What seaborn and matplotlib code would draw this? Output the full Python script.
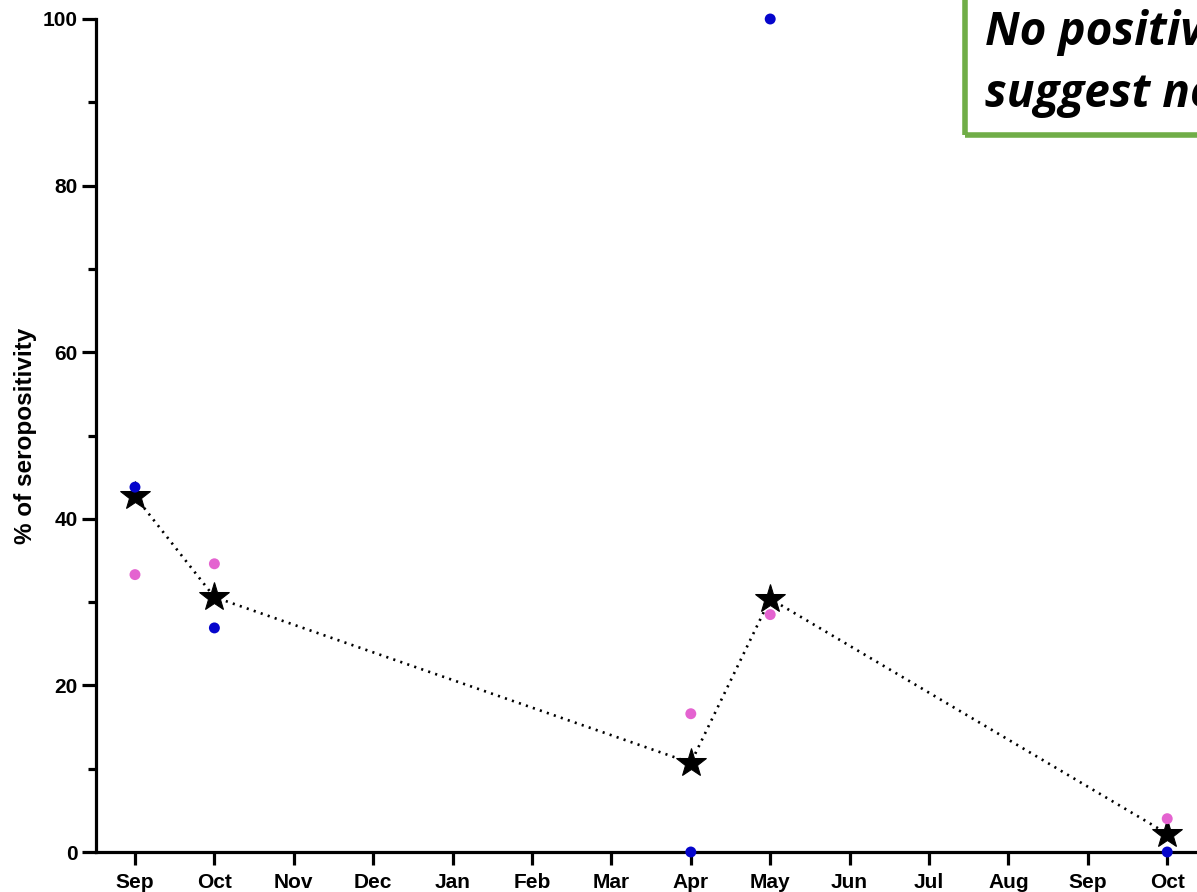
import matplotlib
matplotlib.use("Agg")
import matplotlib.pyplot as plt
import seaborn as sns
import pandas as pd
from matplotlib.patches import Rectangle
from matplotlib.ticker import MultipleLocator

# Sampling months (Sep through Oct of the following year)
months = ["Sep", "Oct", "Nov", "Dec", "Jan", "Feb", "Mar",
          "Apr", "May", "Jun", "Jul", "Aug", "Sep", "Oct"]
sample_idx = [0, 1, 7, 8, 13]

overall = [42.7, 30.6, 10.7, 30.4, 2.2]
group_blue = [43.8, 26.9, 0.0, 100.0, 0.0]
group_pink = [33.3, 34.6, 16.6, 28.5, 4.0]

df = pd.DataFrame({"month": sample_idx, "overall": overall,
                   "blue": group_blue, "pink": group_pink})

sns.set_theme(style="ticks")
plt.rcParams["font.family"] = ["Liberation Sans", "DejaVu Sans"]
plt.rcParams["text.color"] = "black"
plt.rcParams["axes.labelcolor"] = "black"
plt.rcParams["xtick.color"] = "black"
plt.rcParams["ytick.color"] = "black"

W, H = 1197, 892
fig = plt.figure(figsize=(W / 100, H / 100), dpi=100)
ax = fig.add_axes([96 / W, (H - 852) / H, (W - 96) / W, (852 - 19) / H])

sns.lineplot(data=df, x="month", y="overall", ax=ax, color="black",
             linestyle=(0, (0.8, 2.0)), linewidth=1.9, marker="*",
             markersize=22, markeredgecolor="black", clip_on=False, zorder=3)
sns.scatterplot(data=df, x="month", y="pink", ax=ax, color="#E463D0",
                s=62, edgecolor="none", clip_on=False, zorder=5)
sns.scatterplot(data=df, x="month", y="blue", ax=ax, color="#0505CC",
                s=62, edgecolor="none", clip_on=False, zorder=5)

ax.set_xlim(-0.491, 13.375)
ax.set_ylim(0, 100)
ax.set_xticks(range(len(months)))
ax.set_xticklabels(months)
ax.yaxis.set_major_locator(MultipleLocator(20))
ax.yaxis.set_minor_locator(MultipleLocator(10))
ax.set_xlabel("")
ax.set_ylabel("% of seropositivity", fontsize=17.5, fontweight="bold")
ax.yaxis.set_label_coords(-0.054, 0.5)

for s in ["top", "right"]:
    ax.spines[s].set_visible(False)
for s in ["left", "bottom"]:
    ax.spines[s].set_linewidth(2.3)
    ax.spines[s].set_color("black")

ax.tick_params(axis="x", which="major", length=9, width=2.3, labelsize=15, pad=6)
ax.tick_params(axis="y", which="major", length=10, width=2.3, labelsize=15, pad=3)
ax.tick_params(axis="y", which="minor", length=6, width=2.3)
for lab in ax.get_xticklabels() + ax.get_yticklabels():
    lab.set_fontweight("bold")

# Callout box in the top right corner, running off the edge of the figure
fig.patches.append(Rectangle((965 / W, (H - 135) / H), 0.3, 0.3,
                             transform=fig.transFigure, fill=False,
                             edgecolor="#70AD47", linewidth=4.0))
note_font = ["Open Sans", "Lato", "DejaVu Sans"]
fig.text(985 / W, (H - 45) / H, "No positive", fontsize=33,
         fontweight="bold", fontstyle="italic", family=note_font,
         va="baseline", ha="left")
fig.text(985 / W, (H - 107) / H, "suggest no", fontsize=33,
         fontweight="bold", fontstyle="italic", family=note_font,
         va="baseline", ha="left")

fig.savefig("out.png", dpi=100)
